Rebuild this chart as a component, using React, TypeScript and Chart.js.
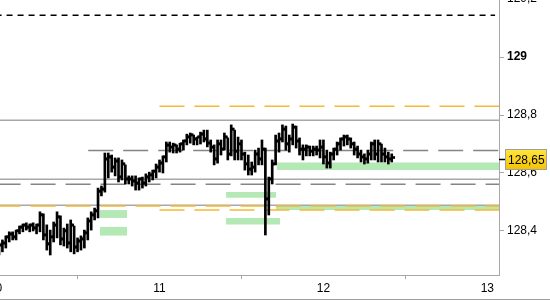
import { useEffect, useRef } from "react";
import { Chart, registerables } from "chart.js";

Chart.register(...registerables);

// 30-minute OHLC bars, counted from the start of day 10
const DAY_START = 10;
const BARS_PER_DAY = 48;
const FIRST_BAR = 1;

const OPEN = [
  128.334, 128.348, 128.355, 128.376, 128.386, 128.376, 128.397, 128.41, 128.417, 128.41,
  128.417, 128.407, 128.417, 128.452, 128.383, 128.352, 128.376, 128.417, 128.445, 128.369,
  128.397, 128.355, 128.417, 128.341, 128.362, 128.369, 128.39, 128.431, 128.452, 128.466,
  128.534, 128.541, 128.645, 128.652, 128.617, 128.638, 128.583, 128.628, 128.576, 128.576,
  128.569, 128.562, 128.576, 128.562, 128.583, 128.59, 128.603, 128.617, 128.631, 128.652,
  128.693, 128.686, 128.693, 128.679, 128.697, 128.707, 128.721, 128.728, 128.714, 128.721,
  128.731, 128.714, 128.7, 128.686, 128.645, 128.697, 128.679, 128.721, 128.662, 128.748,
  128.672, 128.697, 128.662, 128.628, 128.61, 128.617, 128.662, 128.645, 128.679, 128.507,
  128.576, 128.628, 128.707, 128.714, 128.748, 128.697, 128.714, 128.755, 128.707, 128.679,
  128.679, 128.686, 128.672, 128.679, 128.676, 128.686, 128.652, 128.631, 128.662, 128.679,
  128.697, 128.714, 128.721, 128.714, 128.697, 128.679, 128.662, 128.652, 128.645, 128.662,
  128.697, 128.662, 128.697, 128.662, 128.652, 128.645,
];
const HIGH = [
  128.359, 128.369, 128.383, 128.397, 128.397, 128.403, 128.417, 128.424, 128.428, 128.424,
  128.428, 128.424, 128.466, 128.459, 128.421, 128.403, 128.431, 128.466, 128.452, 128.41,
  128.424, 128.438, 128.417, 128.376, 128.383, 128.403, 128.445, 128.466, 128.479, 128.548,
  128.555, 128.669, 128.669, 128.662, 128.652, 128.652, 128.645, 128.628, 128.59, 128.59,
  128.59, 128.583, 128.586, 128.597, 128.603, 128.61, 128.631, 128.645, 128.659, 128.707,
  128.707, 128.703, 128.697, 128.703, 128.714, 128.734, 128.738, 128.731, 128.724, 128.741,
  128.748, 128.748, 128.714, 128.697, 128.714, 128.714, 128.738, 128.721, 128.766, 128.748,
  128.724, 128.714, 128.672, 128.662, 128.638, 128.679, 128.686, 128.714, 128.686, 128.586,
  128.645, 128.731, 128.738, 128.766, 128.762, 128.731, 128.769, 128.762, 128.721, 128.697,
  128.697, 128.693, 128.693, 128.693, 128.714, 128.714, 128.679, 128.672, 128.686, 128.707,
  128.721, 128.731, 128.731, 128.721, 128.707, 128.693, 128.679, 128.666, 128.679, 128.707,
  128.714, 128.714, 128.7, 128.686, 128.672, 128.666,
];
const LOW = [
  128.317, 128.328, 128.341, 128.362, 128.369, 128.369, 128.39, 128.397, 128.403, 128.397,
  128.4, 128.39, 128.397, 128.369, 128.334, 128.317, 128.362, 128.376, 128.352, 128.348,
  128.341, 128.328, 128.321, 128.328, 128.334, 128.341, 128.369, 128.403, 128.438, 128.445,
  128.521, 128.534, 128.583, 128.603, 128.59, 128.569, 128.576, 128.562, 128.562, 128.555,
  128.541, 128.541, 128.548, 128.555, 128.569, 128.576, 128.583, 128.603, 128.6, 128.638,
  128.672, 128.669, 128.669, 128.672, 128.679, 128.697, 128.703, 128.697, 128.697, 128.7,
  128.707, 128.69, 128.672, 128.628, 128.634, 128.662, 128.679, 128.645, 128.659, 128.645,
  128.645, 128.645, 128.61, 128.593, 128.593, 128.603, 128.628, 128.628, 128.386, 128.455,
  128.562, 128.628, 128.672, 128.707, 128.679, 128.672, 128.697, 128.686, 128.662, 128.645,
  128.659, 128.659, 128.659, 128.662, 128.652, 128.631, 128.617, 128.617, 128.645, 128.662,
  128.679, 128.693, 128.697, 128.686, 128.662, 128.652, 128.638, 128.631, 128.634, 128.645,
  128.645, 128.638, 128.638, 128.638, 128.631, 128.638,
];
const CLOSE = [
  128.348, 128.355, 128.376, 128.386, 128.376, 128.397, 128.41, 128.417, 128.41, 128.417,
  128.407, 128.417, 128.452, 128.383, 128.352, 128.376, 128.417, 128.445, 128.369, 128.397,
  128.355, 128.417, 128.341, 128.362, 128.369, 128.39, 128.431, 128.452, 128.466, 128.534,
  128.541, 128.645, 128.652, 128.617, 128.638, 128.583, 128.628, 128.576, 128.576, 128.569,
  128.562, 128.576, 128.562, 128.583, 128.59, 128.603, 128.617, 128.631, 128.652, 128.693,
  128.686, 128.693, 128.679, 128.697, 128.707, 128.721, 128.728, 128.714, 128.721, 128.731,
  128.714, 128.7, 128.686, 128.645, 128.697, 128.679, 128.721, 128.662, 128.748, 128.672,
  128.697, 128.662, 128.628, 128.61, 128.617, 128.662, 128.645, 128.679, 128.507, 128.576,
  128.628, 128.707, 128.714, 128.748, 128.697, 128.714, 128.755, 128.707, 128.679, 128.679,
  128.686, 128.672, 128.679, 128.676, 128.686, 128.652, 128.631, 128.662, 128.679, 128.697,
  128.714, 128.721, 128.714, 128.697, 128.679, 128.662, 128.652, 128.645, 128.662, 128.697,
  128.662, 128.697, 128.662, 128.652, 128.645, 128.65,
];

// axis
const X_TICKS = [10, 11, 12, 13];
const Y_TICKS = [128.4, 128.6, 128.8, 129, 129.2];
const X_MIN = 10.027;
const X_MAX = 13.071;
const Y_MIN = 128.248;
const Y_MAX = 129.197;

// horizontal levels
const LEVEL_VALUE = [129.144, 128.83, 128.486, 128.472, 128.782, 128.578, 128.489, 128.678, 128.561];
const LEVEL_START = [10.0, 11.0, 10.0, 11.0, 10.0, 10.0, 10.0, 10.565, 10.0];
const LEVEL_END = [13.047, 13.2, 13.2, 13.2, 13.2, 13.2, 13.2, 13.2, 13.2];
const LEVEL_KIND = ["black", "orange", "orange", "orange", "gray", "gray", "gray", "grayDash", "grayDash"];

// green zones
const ZONE_START = [10.637, 10.637, 11.406, 11.406, 11.715, 11.711];
const ZONE_END = [10.802, 10.802, 11.711, 11.735, 13.2, 13.2];
const ZONE_LOW = [128.445, 128.384, 128.515, 128.422, 128.61, 128.472];
const ZONE_HIGH = [128.472, 128.414, 128.534, 128.445, 128.636, 128.486];

const FONT = "'Liberation Sans', Arial, sans-serif";

const LEVEL_STYLE: Record<string, any> = {
  black: { borderColor: "#000000", borderWidth: 1.5, borderDash: [6, 5] },
  orange: { borderColor: "#F8B930", borderWidth: 1.5, borderDash: [25, 10] },
  gray: { borderColor: "#A8A8A8", borderWidth: 1.5, borderDash: [] },
  grayDash: { borderColor: "#858585", borderWidth: 1.5, borderDash: [25, 10] },
};

const fmt = (v: number) => String(v).replace(".", ",");

const pricePlugin = {
  id: "priceLabel",
  afterDraw(chart: any) {
    const { ctx, chartArea, scales } = chart;
    const last = CLOSE[CLOSE.length - 1];
    const py = Math.round(scales.y.getPixelForValue(last));
    ctx.save();
    ctx.strokeStyle = "#000";
    ctx.lineWidth = 1.5;
    ctx.beginPath();
    ctx.moveTo(chartArea.right, py + 0.5);
    ctx.lineTo(chartArea.right + 6, py + 0.5);
    ctx.stroke();
    const bx = chartArea.right + 6;
    const bw = 42;
    const bh = 21;
    const by = py - 10;
    const g = ctx.createLinearGradient(0, by, 0, by + bh);
    g.addColorStop(0, "#FFE640");
    g.addColorStop(1, "#F4C200");
    ctx.fillStyle = g;
    ctx.fillRect(bx, by, bw, bh);
    ctx.strokeStyle = "#A0A0A0";
    ctx.lineWidth = 1;
    ctx.strokeRect(bx + 0.5, by + 0.5, bw - 1, bh - 1);
    ctx.fillStyle = "#000";
    ctx.font = `12px ${FONT}`;
    ctx.textBaseline = "middle";
    ctx.textAlign = "left";
    ctx.fillText(last.toFixed(2).replace(".", ","), bx + 3, by + bh / 2 + 1.5);
    ctx.restore();
  },
};

export default function App() {
  const ref = useRef<HTMLCanvasElement | null>(null);

  useEffect(() => {
    document.body.style.margin = "0";
    const canvas = ref.current;
    if (!canvas) return;

    const xs = OPEN.map((_, k) => DAY_START + (FIRST_BAR + k) / BARS_PER_DAY);
    const barCommon = {
      type: "bar" as const,
      backgroundColor: "#000000",
      borderWidth: 0,
      barThickness: 2,
      minBarLength: 2,
      order: 0,
    };

    const datasets: any[] = [
      { ...barCommon, data: xs.map((x, k) => ({ x, y: [OPEN[k], OPEN[k]] })) },
      { ...barCommon, data: xs.map((x, k) => ({ x, y: [LOW[k], HIGH[k]] })) },
      { ...barCommon, data: xs.map((x, k) => ({ x, y: [CLOSE[k], CLOSE[k]] })) },
    ];

    LEVEL_VALUE.forEach((v, k) => {
      datasets.push({
        type: "line",
        data: [
          { x: LEVEL_START[k], y: v },
          { x: LEVEL_END[k], y: v },
        ],
        ...LEVEL_STYLE[LEVEL_KIND[k]],
        pointRadius: 0,
        fill: false,
        order: 1,
      });
    });

    ZONE_HIGH.forEach((hi, k) => {
      datasets.push({
        type: "line",
        data: [
          { x: ZONE_START[k], y: hi },
          { x: ZONE_END[k], y: hi },
        ],
        borderColor: "rgba(0,0,0,0)",
        borderWidth: 0,
        pointRadius: 0,
        fill: { value: ZONE_LOW[k] },
        backgroundColor: "#B4E8B4",
        order: 2,
      });
    });

    const chart = new Chart(canvas, {
      type: "bar",
      data: { datasets },
      plugins: [pricePlugin],
      options: {
        animation: false,
        responsive: false,
        events: [],
        layout: { padding: 0 },
        plugins: { legend: { display: false }, tooltip: { enabled: false } },
        scales: {
          x: {
            type: "linear",
            min: X_MIN,
            max: X_MAX,
            offset: false,
            afterBuildTicks: (s: any) => {
              s.ticks = X_TICKS.map((value) => ({ value }));
            },
            afterFit: (s: any) => {
              s.height = 24;
              s.paddingLeft = 0;
              s.paddingRight = 0;
            },
            grid: { drawOnChartArea: false, drawTicks: true, tickLength: 4, color: "#A8A8A8" },
            border: { display: true, color: "#A8A8A8" },
            ticks: {
              autoSkip: false,
              maxRotation: 0,
              padding: 2,
              color: "#000",
              font: { family: FONT, size: 12 },
              callback: (v: any) => String(v),
            },
          },
          y: {
            type: "linear",
            position: "right",
            min: Y_MIN,
            max: Y_MAX,
            beginAtZero: false,
            afterBuildTicks: (s: any) => {
              s.ticks = Y_TICKS.map((value) => ({ value }));
            },
            afterFit: (s: any) => {
              s.width = 51;
              s.paddingTop = 0;
              s.paddingBottom = 0;
            },
            grid: { drawOnChartArea: false, drawTicks: true, tickLength: 5, color: "#A8A8A8" },
            border: { display: true, color: "#A8A8A8" },
            ticks: {
              autoSkip: false,
              padding: 3,
              color: "#000",
              font: (ctx: any) => ({
                family: FONT,
                size: 12,
                weight: ctx.tick && Number.isInteger(ctx.tick.value) ? "bold" : "normal",
              }),
              callback: (v: any) => fmt(Number(v)),
            },
          },
        },
      } as any,
    });

    return () => chart.destroy();
  }, []);

  return (
    <div style={{ width: 550, height: 299, borderBottom: "1px solid #A0A0A0" }}>
      <canvas ref={ref} width={550} height={299} style={{ display: "block" }} />
    </div>
  );
}
